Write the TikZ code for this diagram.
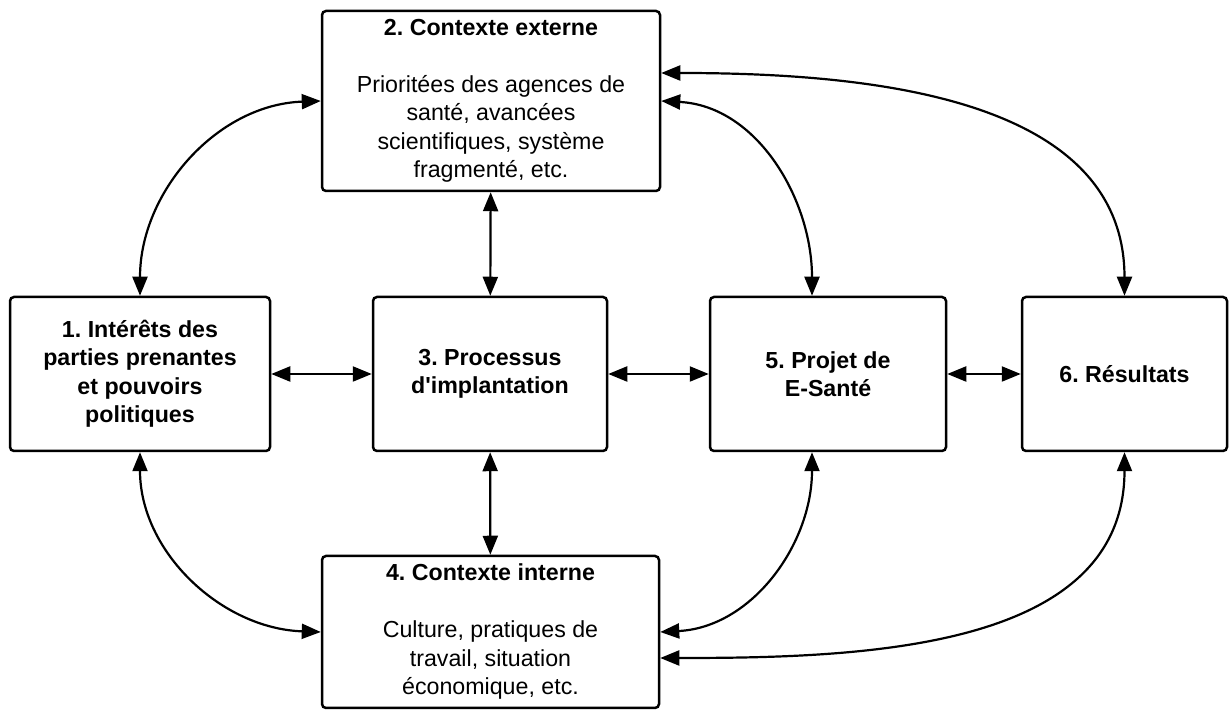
\documentclass[tikz,border=0pt]{standalone}
\usepackage{fontspec}
\setmainfont{Liberation Sans}
\usetikzlibrary{arrows.meta,calc}
\begin{document}
\frenchspacing
\begin{tikzpicture}[x=1pt,y=1pt,
  box/.style={draw, line width=2.5pt, rounded corners=4pt, align=center, inner sep=0pt,
    font=\fontsize{23.2}{28.5}\selectfont},
  boldbox/.style={box, font=\fontsize{23.2}{28.5}\selectfont\bfseries},
  arr/.style={{Triangle[length=19pt,width=15pt]}-{Triangle[length=19pt,width=15pt]}, line width=2.2pt}]
\useasboundingbox (0,0) rectangle (1229,711);
\node[boldbox, minimum width=260pt, minimum height=154pt] (b1) at (140,337)
  {1. Intérêts des\\parties prenantes\\et pouvoirs\\politiques};
\node[box, minimum width=338pt, minimum height=180pt] (b2) at (491,610)
  {\textbf{2. Contexte externe}\\[28.5pt]Prioritées des agences de\\santé, avancées\\scientifiques, système\\fragmenté, etc.};
\node[boldbox, minimum width=234pt, minimum height=154pt] (b3) at (490,337)
  {3. Processus\\d\textquotesingle implantation};
\node[box, minimum width=337pt, minimum height=152pt] (b4) at (490.5,79)
  {\textbf{4. Contexte interne}\\[28.5pt]Culture, pratiques de\\travail, situation\\économique, etc.};
\node[boldbox, minimum width=236pt, minimum height=154pt] (b5) at (828,337)
  {5. Projet de\\E-Santé};
\node[boldbox, minimum width=205pt, minimum height=154pt] (b6) at (1124.5,337)
  {6. Résultats};
\draw[arr] (b1) -- (b3);
\draw[arr] (b3) -- (b5);
\draw[arr] (b5) -- (b6);
\draw[arr] (b2) -- (b3);
\draw[arr] (b3) -- (b4);
\draw[arr] (b1.north) to[out=90,in=182] (b2.west);
\draw[arr] (b1.south) to[out=-90,in=178] (b4.west);
\draw[arr] (b2.east) to[out=-3,in=90] ([xshift=-16pt]b5.north);
\draw[arr] ([yshift=28pt]b2.east) to[out=0,in=90] (b6.north);
\draw[arr] ([xshift=-16pt]b5.south) to[out=-90,in=3] (b4.east);
\draw[arr] (b6.south) to[out=-90,in=0] ([yshift=-26pt]b4.east);
\end{tikzpicture}
\end{document}
